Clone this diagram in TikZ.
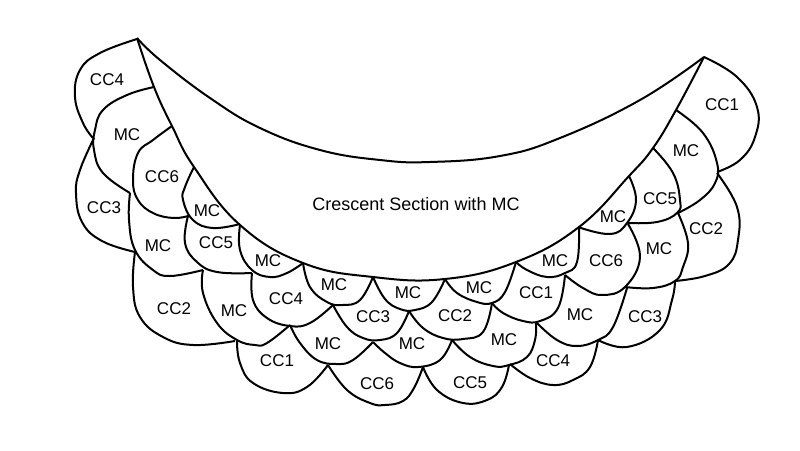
\documentclass[tikz,border=0pt]{standalone}
\usepackage{fontspec}
\setmainfont{Liberation Sans}
\tikzstyle{edge} = [draw, smooth, tension = 0.72, line width = 2pt, line join = round]
\tikzstyle{patch} = [inner sep = 0pt, font = \fontsize{17}{19}\selectfont]

\begin{document}
\begin{tikzpicture}[x=1pt, y=-1pt]
	\useasboundingbox (0,0) rectangle (800,450);
	% crescent
	\path [edge] plot coordinates {(137,38) (160,60) (210,98) (260,128) (320,150) (380,160) (430,162) (500,156) (560,138) (640,100) (704,57)};
	\path [edge] plot coordinates {(137,38) (154,87) (172,126) (194,167) (240,225) (303,263) (373,277) (445,279) (516,262) (579,227) (629,176) (653,148) (676,110) (704,57)};
	% left side
	\path [edge] plot coordinates {(137,39) (100,53) (80,70) (75,97) (83,123) (93,138)};
	\path [edge] plot coordinates {(154,87) (127,95) (103,110) (95,130) (94,150) (103,173) (130,193)};
	\path [edge] plot coordinates {(94,138) (80,170) (76,193) (82,222) (102,241) (135,252)};
	\path [edge] plot coordinates {(172,126) (153,140) (138,153) (133,180) (138,200) (153,213) (173,218) (188,216)};
	\path [edge] plot coordinates {(194,167) (185,187) (183,200) (193,220) (213,228) (240,224)};
	\path [edge] plot coordinates {(130,193) (129,220) (135,250) (153,270) (170,276) (203,270)};
	\path [edge] plot coordinates {(188,216) (185,243) (197,262) (217,272) (252,273)};
	\path [edge] plot coordinates {(240,225) (240,250) (252,270) (270,277) (287,273) (303,263)};
	\path [edge] plot coordinates {(135,252) (133,287) (140,317) (163,337) (193,345) (235,341)};
	\path [edge] plot coordinates {(203,270) (203,293) (217,323) (237,340) (255,345) (267,343) (290,325)};
	\path [edge] plot coordinates {(252,273) (253,300) (267,318) (290,326) (310,323) (333,305)};
	\path [edge] plot coordinates {(303,263) (310,287) (327,302) (343,305) (360,300) (373,277)};
	% bottom rows
	\path [edge] plot coordinates {(237,341) (240,363) (253,383) (283,393) (307,387) (328,365)};
	\path [edge] plot coordinates {(290,325) (300,343) (317,360) (337,364) (353,360) (373,342)};
	\path [edge] plot coordinates {(333,305) (347,327) (363,338) (380,340) (397,333) (409,311)};
	\path [edge] plot coordinates {(373,277) (385,299) (400,309) (415,310) (432,302) (445,279)};
	\path [edge] plot coordinates {(328,365) (347,390) (370,403) (385,405) (403,401) (414,388) (423,367)};
	\path [edge] plot coordinates {(373,342) (385,353) (400,363) (418,367) (440,360) (452,340)};
	\path [edge] plot coordinates {(409,311) (423,328) (443,338) (463,339) (483,332) (492,303)};
	\path [edge] plot coordinates {(445,279) (457,293) (477,302) (492,303) (505,292) (516,262)};
	\path [edge] plot coordinates {(423,367) (437,390) (463,403) (487,400) (502,387) (509,365)};
	\path [edge] plot coordinates {(452,340) (470,357) (493,366) (509,365) (527,357) (535,340) (536,323)};
	\path [edge] plot coordinates {(492,303) (503,313) (523,321) (540,321) (558,308) (565,275)};
	\path [edge] plot coordinates {(516,262) (527,270) (547,277) (565,273) (577,262) (579,227)};
	% right side
	\path [edge] plot coordinates {(565,275) (583,288) (602,295) (625,287) (640,257) (628,224)};
	\path [edge] plot coordinates {(578,227) (610,234) (627,223) (636,200) (629,176)};
	\path [edge] plot coordinates {(653,148) (673,173) (680,200) (677,213) (657,222) (628,223)};
	\path [edge] plot coordinates {(676,110) (703,133) (717,163) (715,183) (700,200) (678,213)};
	\path [edge] plot coordinates {(704,57) (737,77) (757,107) (755,137) (740,160) (717,172)};
	\path [edge] plot coordinates {(717,173) (737,207) (738,240) (729,264) (705,276) (675,281)};
	\path [edge] plot coordinates {(678,213) (688,243) (683,267) (675,281) (653,288) (625,287)};
	\path [edge] plot coordinates {(675,281) (672,300) (660,330) (627,347) (598,340)};
	\path [edge] plot coordinates {(627,288) (613,327) (598,340) (577,346) (557,340) (537,323)};
	\path [edge] plot coordinates {(598,340) (590,367) (573,380) (553,385) (530,378) (510,364)};
	% labels
	\node [patch, font = \fontsize{18}{20}\selectfont] (crescent) at (416,204) {Crescent Section with MC};
	\node [patch] (cc4a) at (107,80) {CC4};
	\node [patch] (mca) at (127,135) {MC};
	\node [patch] (cc6a) at (162,177) {CC6};
	\node [patch] (mcb) at (207,211) {MC};
	\node [patch] (cc3a) at (104,208) {CC3};
	\node [patch] (mcc) at (158,246) {MC};
	\node [patch] (cc5a) at (216,243) {CC5};
	\node [patch] (mcd) at (268,261) {MC};
	\node [patch] (cc2a) at (174,309) {CC2};
	\node [patch] (mce) at (234,311) {MC};
	\node [patch] (cc4b) at (286,299) {CC4};
	\node [patch] (mcf) at (334,285) {MC};
	\node [patch] (cc1a) at (277,361) {CC1};
	\node [patch] (mcg) at (328,344) {MC};
	\node [patch] (cc3b) at (373,317) {CC3};
	\node [patch] (mch) at (408,293) {MC};
	\node [patch] (cc6b) at (377,384) {CC6};
	\node [patch] (mci) at (412,344) {MC};
	\node [patch] (cc2b) at (455,316) {CC2};
	\node [patch] (mcj) at (479,288) {MC};
	\node [patch] (cc5b) at (470,383) {CC5};
	\node [patch] (mck) at (504,340) {MC};
	\node [patch] (cc1b) at (536,293) {CC1};
	\node [patch] (mcl) at (555,261) {MC};
	\node [patch] (cc4c) at (553,361) {CC4};
	\node [patch] (mcm) at (580,315) {MC};
	\node [patch] (cc3c) at (645,317) {CC3};
	\node [patch] (cc6c) at (606,261) {CC6};
	\node [patch] (mcn) at (613,217) {MC};
	\node [patch] (mco) at (659,249) {MC};
	\node [patch] (cc5c) at (660,199) {CC5};
	\node [patch] (cc2c) at (706,229) {CC2};
	\node [patch] (mcp) at (686,151) {MC};
	\node [patch] (cc1c) at (722,105) {CC1};
\end{tikzpicture}
\end{document}
